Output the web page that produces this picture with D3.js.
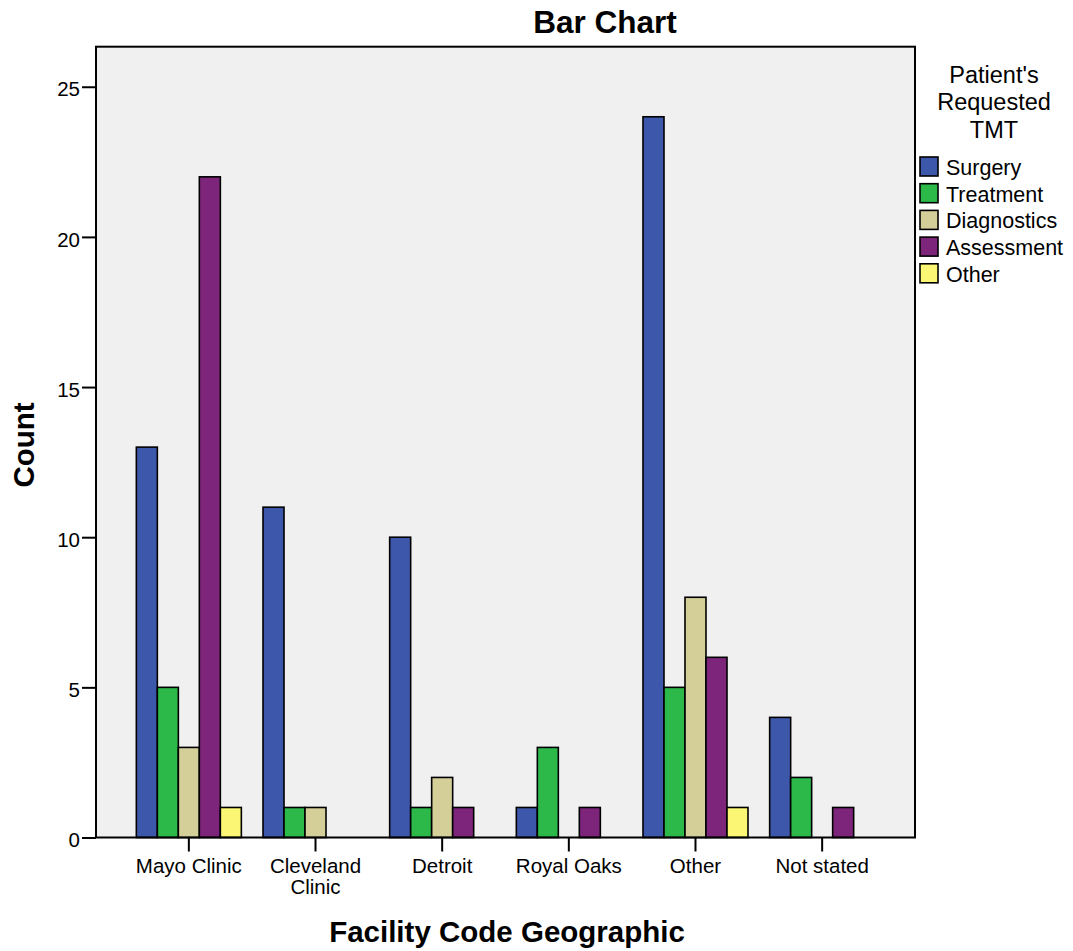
<!DOCTYPE html>
<html><head><meta charset="utf-8">
<script src="https://cdn.jsdelivr.net/npm/d3@7"></script>
<style>body{margin:0;background:#fff}text{font-family:"Liberation Sans",Arial,sans-serif}</style>
</head><body>
<svg id="c" width="1073" height="951"></svg>
<script>
const categories = ["Mayo Clinic", "Cleveland Clinic", "Detroit", "Royal Oaks", "Other", "Not stated"];
const seriesNames = ["Surgery", "Treatment", "Diagnostics", "Assessment", "Other"];
const surgery     = [13, 11, 10, 1, 24, 4];
const treatment   = [5, 1, 1, 3, 5, 2];
const diagnostics = [3, 1, 2, 0, 8, 0];
const assessment  = [22, 0, 1, 1, 6, 1];
const other       = [1, 0, 0, 0, 1, 0];
const yTicks = [0, 5, 10, 15, 20, 25];
const colors = ["#3d58ab", "#2db84a", "#d4ce98", "#7d257b", "#fbf774"];

const values = [surgery, treatment, diagnostics, assessment, other];
const svg = d3.select("#c");
const L = 96, R = 915, T = 46.7, B = 837.5;

const x0 = d3.scaleBand().domain(categories).range([L, R]).paddingInner(0.171).paddingOuter(0.3185);
const x1 = d3.scaleBand().domain(seriesNames).range([0, x0.bandwidth()]);
const y = d3.scaleLinear().domain([0, (B - T) / 30.03]).range([B, T]);

svg.append("rect").attr("x", L).attr("y", T).attr("width", R - L).attr("height", B - T)
  .attr("fill", "#f0f0f0");

const rows = [];
categories.forEach((c, i) => seriesNames.forEach((s, j) => {
  if (values[j][i] > 0) rows.push({c, s, v: values[j][i], j});
}));
svg.append("g").selectAll("rect").data(rows).join("rect")
  .attr("x", d => x0(d.c) + x1(d.s))
  .attr("y", d => y(d.v))
  .attr("width", x1.bandwidth())
  .attr("height", d => y(0) - y(d.v))
  .attr("fill", d => colors[d.j])
  .attr("stroke", "#000").attr("stroke-width", 1.6);

svg.append("rect").attr("x", L).attr("y", T).attr("width", R - L).attr("height", B - T)
  .attr("fill", "none").attr("stroke", "#000").attr("stroke-width", 2);

// Y axis
const ya = svg.append("g").attr("transform", `translate(${L},0)`)
  .call(d3.axisLeft(y).tickValues(yTicks).tickSize(14).tickPadding(2));
ya.select(".domain").remove();
ya.selectAll("line").attr("stroke", "#000").attr("stroke-width", 2);
ya.selectAll("text").attr("font-size", 20.5).attr("fill", "#000").attr("dy", "0.45em");

// X axis
const xa = svg.append("g").attr("transform", `translate(0,${B})`)
  .call(d3.axisBottom(x0).tickSize(14));
xa.select(".domain").remove();
xa.selectAll("line").attr("stroke", "#000").attr("stroke-width", 2);
xa.selectAll("text").attr("font-size", 20.5).attr("fill", "#000").attr("y", 35).attr("dy", 0).each(function(d) {
  const t = d3.select(this);
  if (d === "Cleveland Clinic") {
    t.text(null);
    t.append("tspan").attr("x", 0).attr("dy", 0).text("Cleveland");
    t.append("tspan").attr("x", 0).attr("dy", 21).text("Clinic");
  }
});

// Titles
svg.append("text").attr("x", 605).attr("y", 33).attr("text-anchor", "middle")
  .attr("font-size", 31.5).attr("font-weight", "bold").text("Bar Chart");
svg.append("text").attr("x", 507).attr("y", 942).attr("text-anchor", "middle")
  .attr("font-size", 29.5).attr("font-weight", "bold").text("Facility Code Geographic");
svg.append("text").attr("transform", "translate(34,445) rotate(-90)").attr("text-anchor", "middle")
  .attr("font-size", 29.5).attr("font-weight", "bold").text("Count");

// Legend
const lg = svg.append("g");
["Patient's", "Requested", "TMT"].forEach((t, i) => {
  lg.append("text").attr("x", 994).attr("y", 82.5 + i * 27.5).attr("text-anchor", "middle")
    .attr("font-size", 23.5).text(t);
});
seriesNames.forEach((s, i) => {
  const yy = 157 + i * 26.7;
  lg.append("rect").attr("x", 920).attr("y", yy).attr("width", 18).attr("height", 19)
    .attr("fill", colors[i]).attr("stroke", "#000").attr("stroke-width", 1.6);
  lg.append("text").attr("x", 946).attr("y", yy + 18).attr("font-size", 21.5).text(s);
});
</script>
</body></html>
